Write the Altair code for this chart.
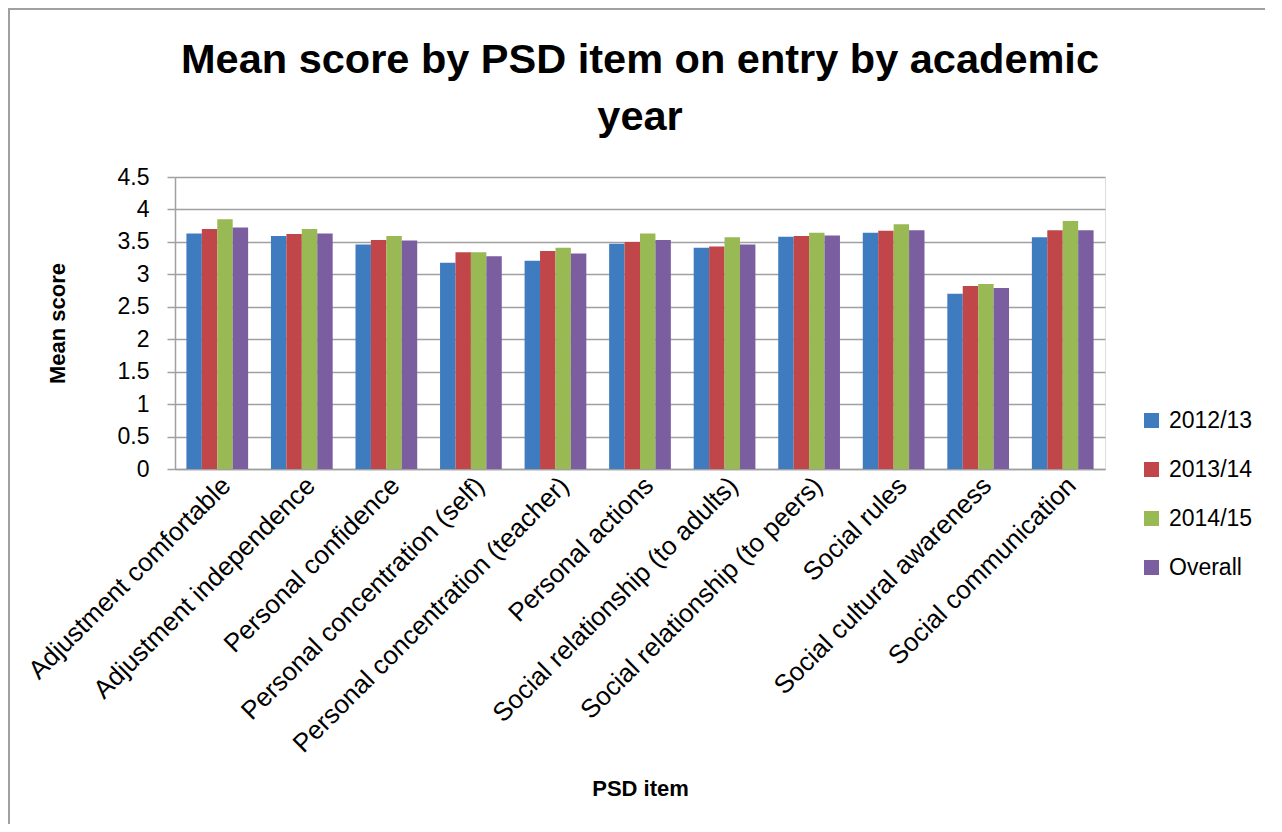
import altair as alt
import pandas as pd

items = [
    "Adjustment comfortable",
    "Adjustment independence",
    "Personal confidence",
    "Personal concentration (self)",
    "Personal concentration (teacher)",
    "Personal actions",
    "Social relationship (to adults)",
    "Social relationship (to peers)",
    "Social rules",
    "Social cultural awareness",
    "Social communication",
]
series = ["2012/13", "2013/14", "2014/15", "Overall"]
v2012 = [3.63, 3.59, 3.46, 3.18, 3.21, 3.47, 3.41, 3.58, 3.64, 2.70, 3.57]
v2013 = [3.70, 3.62, 3.53, 3.34, 3.36, 3.50, 3.43, 3.59, 3.67, 2.82, 3.68]
v2014 = [3.85, 3.70, 3.59, 3.34, 3.41, 3.63, 3.57, 3.64, 3.77, 2.85, 3.82]
vall = [3.72, 3.63, 3.52, 3.28, 3.32, 3.53, 3.46, 3.60, 3.68, 2.79, 3.68]
colors = ["#3F7CBF", "#C0464A", "#98B954", "#7B5EA0"]
y_ticks = [0, 0.5, 1, 1.5, 2, 2.5, 3, 3.5, 4, 4.5]

rows = []
for s, vals in zip(series, [v2012, v2013, v2014, vall]):
    for it, v in zip(items, vals):
        rows.append({"item": it, "series": s, "value": v})
df = pd.DataFrame(rows)

FONT = "Liberation Sans"

bars = alt.Chart(df).mark_bar().encode(
    x=alt.X(
        "item:N",
        sort=items,
        scale=alt.Scale(paddingInner=0.27, paddingOuter=0.135),
        axis=alt.Axis(
            title="PSD item",
            labelAngle=-45,
            labelFontSize=26,
            labelFont=FONT,
            labelColor="#000000",
            labelPadding=3,
            ticks=False,
            domainColor="#a0a0a0",
            domainWidth=1.5,
            titleFont=FONT,
            titleFontSize=22,
            titleFontWeight="bold",
            titleColor="#000000",
            titleBaseline="alphabetic",
            titleY=326,
            labelLimit=500,
        ),
    ),
    xOffset=alt.XOffset("series:N", sort=series),
    y=alt.Y(
        "value:Q",
        scale=alt.Scale(domain=[0, 4.5], nice=False),
        axis=alt.Axis(
            title="Mean score",
            values=y_ticks,
            format="~g",
            labelFontSize=23,
            labelFont=FONT,
            labelColor="#000000",
            labelPadding=18,
            tickSize=8,
            tickColor="#a0a0a0",
            tickWidth=1.5,
            domainColor="#a0a0a0",
            domainWidth=1.5,
            gridColor="#a0a0a0",
            gridWidth=1.5,
            titleFont=FONT,
            titleFontSize=22,
            titleFontWeight="bold",
            titleColor="#000000",
            titleBaseline="middle",
            titleX=-118,
        ),
    ),
    color=alt.Color(
        "series:N",
        sort=series,
        scale=alt.Scale(domain=series, range=colors),
        title=None,
        legend=alt.Legend(
            orient="none",
            legendX=965,
            legendY=232,
            symbolType="square",
            symbolSize=225,
            symbolStrokeWidth=0,
            labelFontSize=23,
            labelFont=FONT,
            labelColor="#000000",
            labelOffset=6,
            rowPadding=25,
            padding=0,
        ),
    ),
)

frame = alt.Chart(pd.DataFrame({"a": [0]})).mark_rect(
    fill="transparent", stroke="#a0a0a0", strokeWidth=2
).encode(
    x=alt.value(-166),
    x2=alt.value(1200),
    y=alt.value(-168),
    y2=alt.value(800),
)

chart = alt.layer(frame, bars).properties(
    width=930,
    height=292,
    autosize=alt.AutoSizeParams(type="none"),
    padding={"left": 167, "top": 169, "right": 160, "bottom": 355},
    title=alt.TitleParams(
        text=["Mean score by PSD item on entry by academic", "year"],
        font=FONT,
        fontSize=41.5,
        fontWeight="bold",
        color="#000000",
        anchor="middle",
        frame="group",
        lineHeight=57,
        offset=0,
        dy=130,
    ),
).configure_view(stroke=None).configure(background="white")

chart.save("out.html", embed_options={"renderer": "svg", "actions": False})
